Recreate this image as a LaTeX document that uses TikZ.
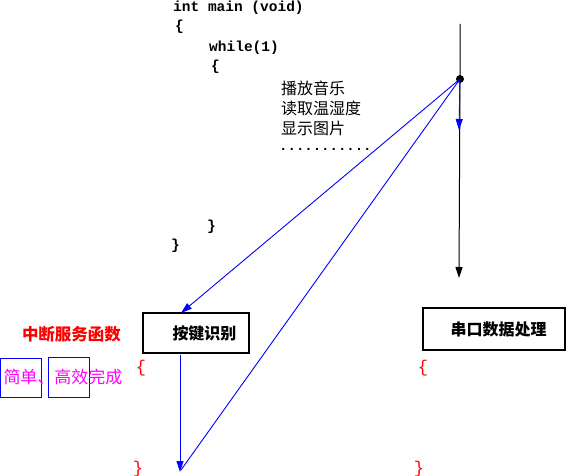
\documentclass[tikz,border=0pt]{standalone}
\usepackage{fontspec}
\setmainfont{Liberation Serif}
\setmonofont{Liberation Mono}
\newfontfamily\cjk{Noto Sans CJK SC}
\usetikzlibrary{arrows.meta}
\definecolor{mag}{RGB}{255,0,255}
\definecolor{rd}{RGB}{255,0,0}
\definecolor{bu}{RGB}{0,0,255}
\begin{document}
\begin{tikzpicture}[x=1pt,y=-1pt,
  code/.style={anchor=west,inner sep=0pt,font=\ttfamily\bfseries\fontsize{14.5}{16}\selectfont},
  cn/.style={anchor=west,inner sep=0pt,font=\cjk\fontsize{16}{18}\selectfont},
  box/.style={draw=black,line width=1.2pt,inner sep=0pt,font=\cjk\bfseries\fontsize{16}{18}\selectfont},
  brace/.style={inner sep=0pt,text=rd,font=\ttfamily\fontsize{17}{18}\selectfont},
  bl/.style={draw=bu,line width=0.9pt},
  barrow/.style={bl,-{Triangle[width=7pt,length=11pt]}},
  karrow/.style={draw=black,line width=1pt,-{Triangle[width=7pt,length=11pt]}}]
\useasboundingbox (0,0) rectangle (566,476);
% code
\node[code] (l1) at (173,8) {int main (void)};
\node[code] (l2) at (175,27) {\{};
\node[code] (l3) at (209,48) {while(1)};
\node[code] (l4) at (211,67) {\{};
\node[cn] (t1) at (281,88) {播放音乐};
\node[cn] (t2) at (281,108) {读取温湿度};
\node[cn] (t3) at (281,128) {显示图片};
\node[code,font=\ttfamily\bfseries\fontsize{14}{16}\selectfont] (t4) at (279,149) {...........};
\node[code] (l5) at (207,227) {\}};
\node[code] (l6) at (171,246) {\}};
% right timeline
\coordinate (top) at (460,24);
\node[circle,fill=black,inner sep=0pt,minimum size=8pt] (dot) at (460,79) {};
\coordinate (bot) at (459,278);
\coordinate (bmid) at (459,130);
\draw[karrow] (top) -- (dot.center) -- (bot);
\draw[barrow] (dot.center) -- (bmid);
% boxes
\node[box,minimum width=106pt,minimum height=40pt] (k) at (196,333) {\hspace*{17pt}按键识别};
\node[box,minimum width=142pt,minimum height=42pt] (s) at (494,329) {\hspace*{9pt}串口数据处理};
% braces
\node[brace] (kb1) at (141,368) {\{};
\node[brace] (kb2) at (138,469) {\}};
\node[brace] (sb1) at (423,368) {\{};
\node[brace] (sb2) at (419,469) {\}};
% left labels
\node[cn,anchor=center,text=rd,font=\cjk\bfseries\fontsize{16.5}{18}\selectfont] (isr) at (71.5,334) {中断服务函数};
\node[draw=bu,line width=0.9pt,minimum width=41pt,minimum height=39pt,inner sep=0pt] (b1) at (21,377.5) {};
\node[draw=bu,line width=0.9pt,minimum width=41pt,minimum height=40pt,inner sep=0pt] (b2) at (68.5,377) {};
\node[cn,anchor=center,text=mag,font=\cjk\fontsize{17}{18}\selectfont] (simple) at (63,377) {简单、高效完成};
% blue connectors
\coordinate (ktop) at (181,313);
\coordinate (kout) at (180,355);
\coordinate (kend) at (180,472);
\coordinate (dend) at (181,470);
\draw[barrow] (dot.center) -- (ktop);
\draw[barrow] (kout) -- (kend);
\draw[bl] (dot.center) -- (dend);
\end{tikzpicture}
\end{document}
